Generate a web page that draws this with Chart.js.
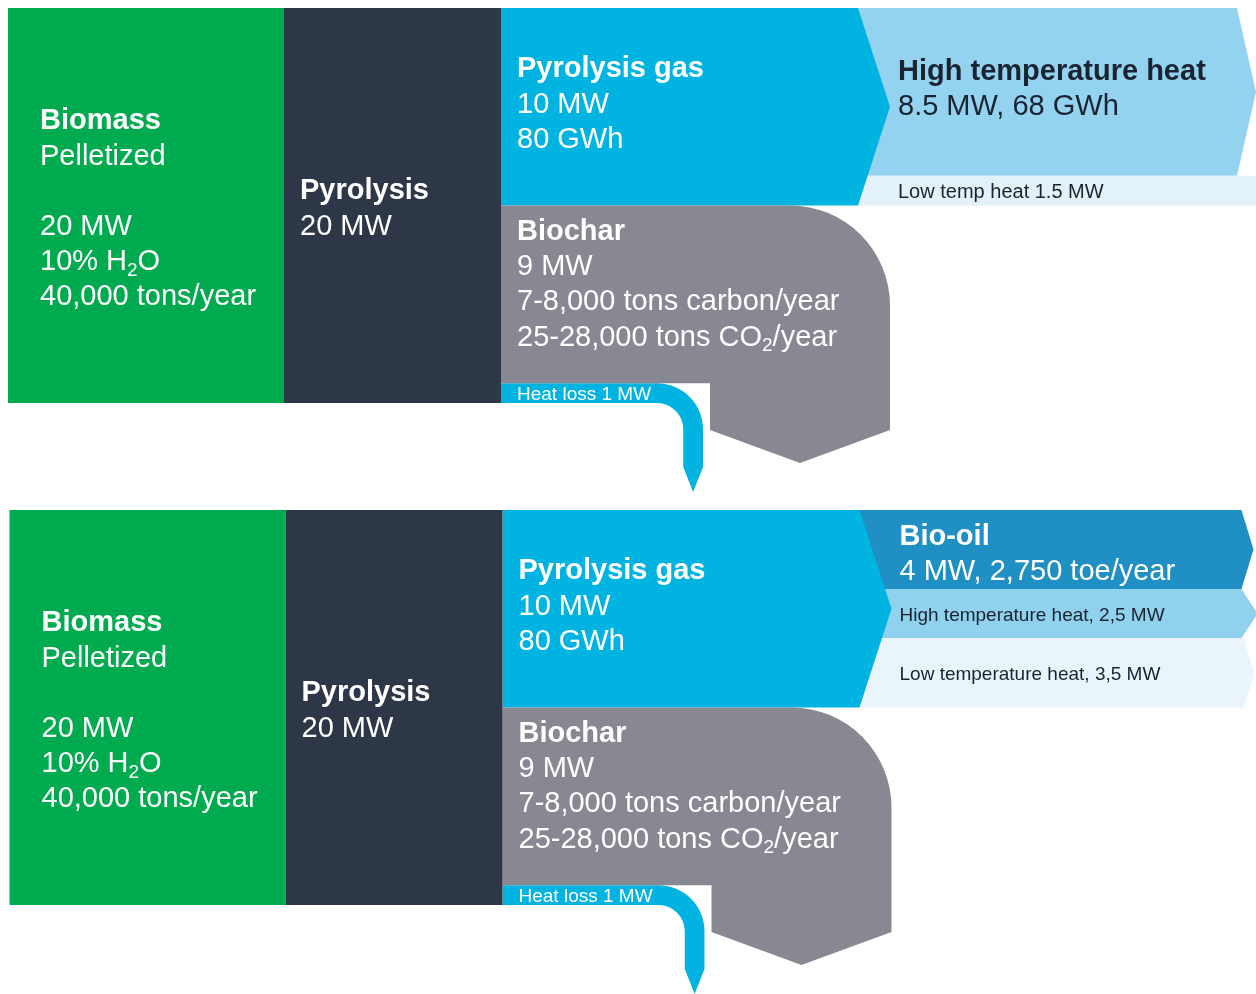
<!DOCTYPE html>
<html>
<head>
<meta charset="utf-8">
<title>Pyrolysis energy flows</title>
<script src="https://cdn.jsdelivr.net/npm/chart.js@4.4.1/dist/chart.umd.min.js"></script>
<style>
    html, body { margin: 0; padding: 0; background: #ffffff; }
    #wrap { width: 1256px; height: 994px; }
</style>
</head>
<body>
<div id="wrap"><canvas id="flows" width="1256" height="994"></canvas></div>
<script>
// Energy flows, MW
const inputMW = 20;
const pyrolysisMW = 20;
const gasMW = 10;
const biocharMW = 9;
const heatLossMW = 1;

// Case 1: pyrolysis gas burnt for heat
const heatCaseNames = ['High temperature heat', 'Low temp heat'];
const heatCaseMW = [8.5, 1.5];

// Case 2: pyrolysis gas condensed to bio-oil
const oilCaseNames = ['Bio-oil', 'High temperature heat', 'Low temperature heat'];
const oilCaseMW = [4, 2.5, 3.5];

// Label lines; {sub: '2'} marks a subscript
const biomassLines = [['Biomass'], ['Pelletized'], null, [`${inputMW} MW`], ['10% H', {sub: '2'}, 'O'], ['40,000 tons/year']];
const pyrolysisLines = [['Pyrolysis'], [`${pyrolysisMW} MW`]];
const gasLines = [['Pyrolysis gas'], [`${gasMW} MW`], ['80 GWh']];
const biocharLines = [['Biochar'], [`${biocharMW} MW`], ['7-8,000 tons carbon/year'], ['25-28,000 tons CO', {sub: '2'}, '/year']];
const heatCaseDetail = ['8.5 MW, 68 GWh', '1.5 MW'];
const oilCaseDetail = ['4 MW, 2,750 toe/year', '2,5 MW', '3,5 MW'];

// Layout (x in canvas units, y in MW)
const Y_SPAN = 50.33;
const COL = { left: 8, pyro: 284, split: 501, outLeft: 858, gasTip: 32, charRight: 890, lossRight: 703, lossBend: 657, notch: 710 };
const FONT = '"Liberation Sans", Arial, Helvetica, sans-serif';
const BIG = 29;
const LINE = 35.2;

const COLORS = {
    biomass: '#00ab4f',
    pyrolysis: '#2e3748',
    gas: '#00b3e1',
    biochar: '#878892',
    lightText: '#ffffff',
    darkText: '#1a2331'
};

const panels = [
    {
        base: 0.405, dx: 0,
        outMW: heatCaseMW,
        outNames: heatCaseNames,
        outDetail: heatCaseDetail,
        outStyle: [
            { color: '#93d3ef', end: 1237, tip: 19, big: true, text: COLORS.darkText, first: 72 },
            { color: '#e3f1fa', end: 1256, tip: 0, big: false, text: COLORS.darkText }
        ]
    },
    {
        base: 25.823, dx: 1.5,
        outMW: oilCaseMW,
        outNames: oilCaseNames,
        outDetail: oilCaseDetail,
        outStyle: [
            { color: '#1f8fc4', end: 1240, tip: 12, big: true, text: COLORS.lightText, first: 35 },
            { color: '#90d1ee', end: 1240, tip: 16, big: false, text: COLORS.darkText, comma: true },
            { color: '#e9f5fb', end: 1242, tip: 11, big: false, text: COLORS.darkText, comma: true }
        ]
    }
];

function drawRich(ctx, x, y, runs, size, bold, color) {
    ctx.fillStyle = color;
    ctx.textBaseline = 'alphabetic';
    ctx.textAlign = 'left';
    let cx = x;
    runs.forEach(run => {
        if (typeof run === 'string') {
            ctx.font = `${bold ? 'bold ' : ''}${size}px ${FONT}`;
            ctx.fillText(run, cx, y);
            cx += ctx.measureText(run).width;
        } else {
            const s = Math.round(size * 0.66);
            ctx.font = `${bold ? 'bold ' : ''}${s}px ${FONT}`;
            ctx.fillText(run.sub, cx, y + size * 0.2);
            cx += ctx.measureText(run.sub).width;
        }
    });
}

function drawLines(ctx, x, y, lines, color) {
    lines.forEach((line, i) => {
        if (line) drawRich(ctx, x, y + i * LINE, line, BIG, i === 0, color);
    });
}

function fillPoly(ctx, pts, color) {
    ctx.beginPath();
    pts.forEach(([px, py], i) => i ? ctx.lineTo(px, py) : ctx.moveTo(px, py));
    ctx.closePath();
    ctx.fillStyle = color;
    ctx.fill();
}

function drawPanel(ctx, xs, ys, p) {
    const X = v => xs.getPixelForValue(v + p.dx);
    const Y = mw => ys.getPixelForValue(p.base + mw);
    const top = Y(0);

    // gas split into its end uses
    let acc = 0;
    p.outMW.forEach((mw, i) => {
        const st = p.outStyle[i];
        const t = Y(acc), b = Y(acc + mw);
        acc += mw;
        fillPoly(ctx, [[X(COL.outLeft), t], [X(st.end), t], [X(st.end + st.tip), (t + b) / 2], [X(st.end), b], [X(COL.outLeft), b]], st.color);
        const tx = X(COL.outLeft + 40);
        if (st.big) {
            drawRich(ctx, tx, top + st.first, [p.outNames[i]], BIG, true, st.text);
            drawRich(ctx, tx, top + st.first + LINE, [p.outDetail[i]], BIG, false, st.text);
        } else {
            const label = st.comma ? `${p.outNames[i]}, ${p.outDetail[i]}` : `${p.outNames[i]} ${p.outDetail[i]}`;
            drawRich(ctx, tx, (t + b) / 2 + 7, [label], st.comma ? 19 : 20, false, st.text);
        }
    });

    // pyrolysis gas arrow
    fillPoly(ctx, [
        [X(COL.split), Y(0)], [X(COL.outLeft), Y(0)],
        [X(COL.outLeft + COL.gasTip), Y(gasMW / 2)],
        [X(COL.outLeft), Y(gasMW)], [X(COL.split), Y(gasMW)]
    ], COLORS.gas);

    // heat loss, bending down
    const lt = Y(gasMW + biocharMW), lb = Y(gasMW + biocharMW + heatLossMW);
    const w = lb - lt;
    const R = X(COL.lossRight) - X(COL.lossBend);
    const bx = X(COL.lossBend), cy = lt + R;
    const shaftEnd = Y(pyrolysisMW) + 64, tipY = Y(pyrolysisMW) + 89;
    ctx.beginPath();
    ctx.moveTo(X(COL.split), lt);
    ctx.lineTo(bx, lt);
    ctx.arc(bx, cy, R, -Math.PI / 2, 0);
    ctx.lineTo(bx + R, shaftEnd);
    ctx.lineTo(bx + R - w / 2, tipY);
    ctx.lineTo(bx + R - w, shaftEnd);
    ctx.lineTo(bx + R - w, cy);
    ctx.arc(bx, cy, R - w, 0, -Math.PI / 2, true);
    ctx.lineTo(X(COL.split), lb);
    ctx.closePath();
    ctx.fillStyle = COLORS.gas;
    ctx.fill();
    drawRich(ctx, X(COL.split + 16), (lt + lb) / 2 + 6.8, ['Heat loss 1 MW'], 19, false, COLORS.lightText);

    // biochar, rounded corner and downward point
    const ct = Y(gasMW), cb = Y(gasMW + biocharMW);
    const side = Y(pyrolysisMW) + 27, point = Y(pyrolysisMW) + 60;
    const right = X(COL.charRight);
    ctx.beginPath();
    ctx.moveTo(X(COL.split), ct);
    ctx.arcTo(right, ct, right, ct + 100, 100);
    ctx.lineTo(right, side);
    ctx.lineTo((right + X(COL.notch)) / 2, point);
    ctx.lineTo(X(COL.notch), side);
    ctx.lineTo(X(COL.notch), cb);
    ctx.lineTo(X(COL.split), cb);
    ctx.closePath();
    ctx.fillStyle = COLORS.biochar;
    ctx.fill();

    // biomass and pyrolysis columns
    fillPoly(ctx, [[X(COL.left), Y(0)], [X(COL.pyro), Y(0)], [X(COL.pyro), Y(inputMW)], [X(COL.left), Y(inputMW)]], COLORS.biomass);
    fillPoly(ctx, [[X(COL.pyro), Y(0)], [X(COL.split), Y(0)], [X(COL.split), Y(pyrolysisMW)], [X(COL.pyro), Y(pyrolysisMW)]], COLORS.pyrolysis);

    drawLines(ctx, X(COL.left + 32), top + 121.5, biomassLines, COLORS.lightText);
    drawLines(ctx, X(COL.pyro + 16), top + 191.5, pyrolysisLines, COLORS.lightText);
    drawLines(ctx, X(COL.split + 16), top + 69.5, gasLines, COLORS.lightText);
    drawLines(ctx, X(COL.split + 16), top + 232, biocharLines, COLORS.lightText);
}

const flowPlugin = {
    id: 'flowPlugin',
    beforeDatasetsDraw(chart) {
        const { ctx, scales: { x, y } } = chart;
        ctx.save();
        panels.forEach(p => drawPanel(ctx, x, y, p));
        ctx.restore();
    }
};

new Chart(document.getElementById('flows'), {
    type: 'scatter',
    data: { datasets: [] },
    options: {
        responsive: false,
        animation: false,
        events: [],
        layout: { padding: 0 },
        plugins: { legend: { display: false }, tooltip: { enabled: false } },
        scales: {
            x: { type: 'linear', min: 0, max: 1256, display: false },
            y: { type: 'linear', min: 0, max: Y_SPAN, reverse: true, display: false }
        }
    },
    plugins: [flowPlugin]
});
</script>
</body>
</html>
